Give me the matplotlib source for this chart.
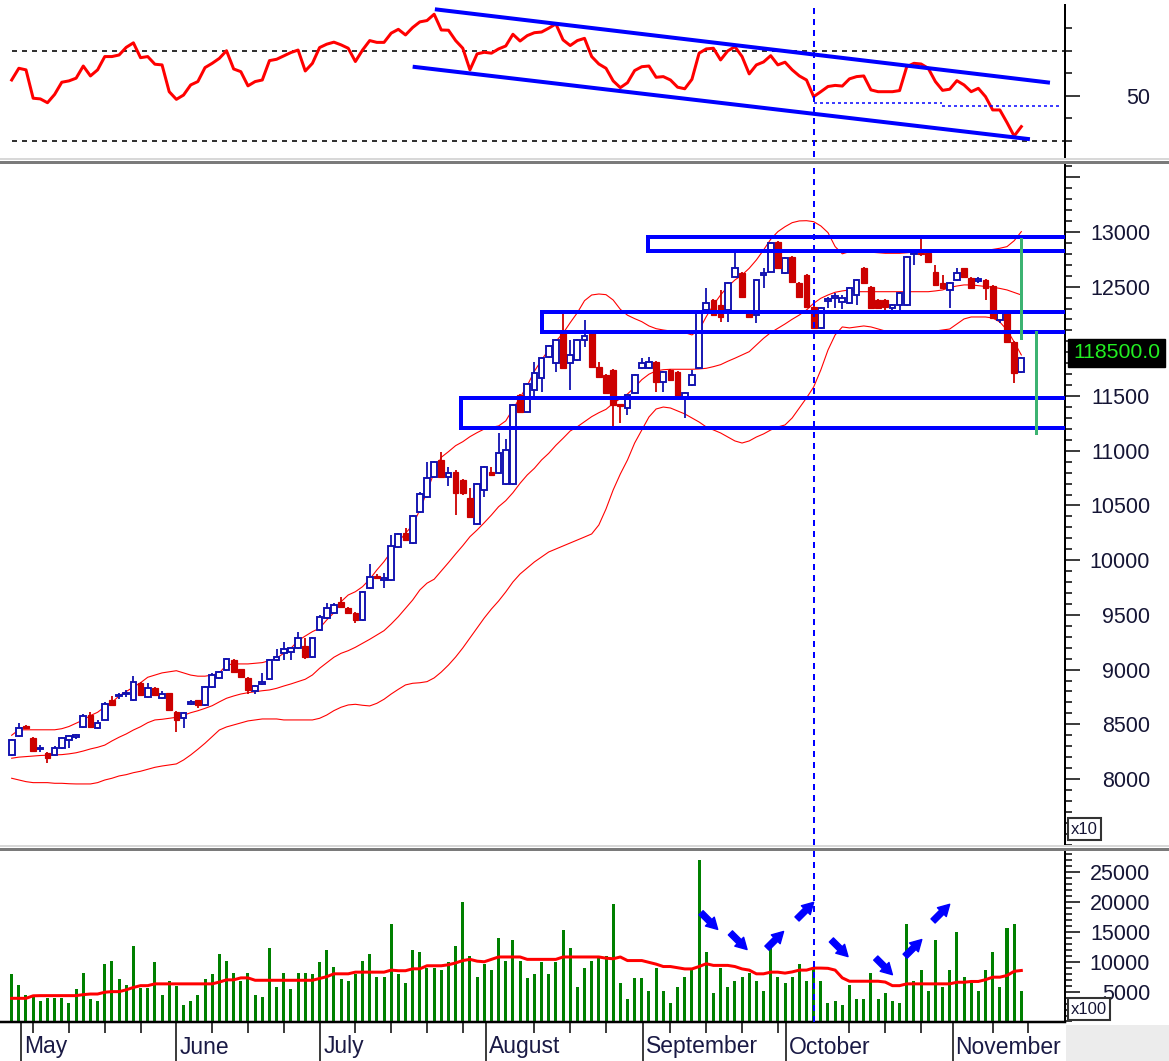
import numpy as np
import matplotlib
matplotlib.use("Agg")
import matplotlib.pyplot as plt
from matplotlib.lines import Line2D
from matplotlib.patches import Rectangle
from matplotlib.ticker import MultipleLocator, FixedLocator

plt.rcParams['font.family'] = ['Liberation Sans', 'DejaVu Sans']

# ---- price bars (x10) ----
opens = [8220, 8394, 8480, 8372, 8270, 8235, 8220, 8281, 8360, 8385, 8473, 8585, 8464, 8540, 8722, 8755, 8775, 8722, 8875, 8753,
         8829, 8745, 8784, 8616, 8555, 8690, 8720, 8677, 8841, 8923, 8997, 9088, 9003, 8923, 8807, 8870, 8912, 9088, 9149, 9165,
         9195, 9216, 9119, 9362, 9469, 9515, 9621, 9560, 9515, 9457, 9743, 9856, 9820, 9820, 10124, 10246, 10160, 10444, 10580, 10763,
         10916, 10758, 10809, 10733, 10566, 10331, 10642, 10809, 10800, 10697, 10697, 11510, 11358, 11556, 11663, 11860, 11800, 12074, 11800, 11830,
         12013, 12074, 11769, 11693, 11739, 11425, 11389, 11526, 11754, 11754, 11815, 11632, 11739, 11723, 11495, 11602, 11754, 12287, 12378, 12333,
         12287, 12591, 12623, 12257, 12241, 12610, 12637, 12911, 12623, 12774, 12531, 12607, 12317, 12120, 12370, 12400, 12360, 12348, 12424, 12668,
         12500, 12378, 12378, 12303, 12333, 12333, 12795, 12810, 12805, 12637, 12531, 12470, 12561, 12668, 12577, 12555, 12561, 12506, 12196, 12257,
         11997, 11720]
highs = [8370, 8512, 8490, 8380, 8310, 8250, 8300, 8380, 8400, 8412, 8590, 8616, 8540, 8700, 8760, 8790, 8810, 8942, 8890, 8875,
         8840, 8800, 8790, 8625, 8615, 8722, 8725, 8850, 8966, 8990, 9110, 9095, 9010, 8930, 8860, 8970, 9095, 9190, 9256, 9210,
         9347, 9287, 9295, 9495, 9606, 9610, 9667, 9575, 9530, 9720, 9966, 9870, 9880, 10231, 10250, 10292, 10410, 10626, 10900, 10910,
         10992, 10855, 10820, 10740, 10657, 10705, 10865, 10855, 11160, 11105, 11430, 11520, 11620, 11815, 11860, 11970, 12025, 12257, 12013, 12020,
         12196, 12080, 11815, 11700, 11745, 11430, 11520, 11700, 11846, 11855, 11820, 11730, 11745, 11730, 11535, 11739, 12265, 12485, 12385, 12470,
         12540, 12805, 12630, 12265, 12570, 12668, 12905, 12920, 12770, 12780, 12540, 12615, 12325, 12310, 12410, 12440, 12420, 12495, 12570, 12683,
         12510, 12385, 12385, 12340, 12450, 12780, 12815, 12945, 12815, 12700, 12607, 12540, 12668, 12675, 12585, 12590, 12570, 12515, 12265, 12265,
         12005, 11860]
lows = [8210, 8380, 8460, 8250, 8250, 8145, 8215, 8275, 8285, 8365, 8465, 8475, 8460, 8535, 8665, 8730, 8750, 8710, 8760, 8745,
        8765, 8735, 8625, 8433, 8465, 8677, 8646, 8670, 8835, 8915, 8990, 8975, 8925, 8777, 8780, 8860, 8905, 9080, 9088, 9088,
        9190, 9095, 9110, 9355, 9460, 9505, 9570, 9515, 9424, 9440, 9735, 9830, 9743, 9810, 10115, 10180, 10150, 10430, 10570, 10755,
        10755, 10678, 10413, 10600, 10390, 10320, 10580, 10770, 10790, 10690, 10690, 11350, 11350, 11489, 11540, 11850, 11723, 11745, 11556, 11820,
        11952, 11760, 11670, 11520, 11220, 11250, 11327, 11515, 11745, 11745, 11540, 11540, 11640, 11490, 11300, 11595, 11745, 12280, 12235, 12180,
        12180, 12585, 12400, 12220, 12166, 12485, 12630, 12660, 12615, 12540, 12400, 12310, 12110, 12110, 12303, 12303, 12300, 12340, 12333, 12525,
        12295, 12295, 12257, 12272, 12257, 12325, 12700, 12780, 12720, 12510, 12480, 12303, 12555, 12585, 12480, 12531, 12378, 12200, 12166, 11990,
        11623, 11715]
closes = [8357, 8470, 8470, 8256, 8285, 8195, 8281, 8372, 8394, 8395, 8576, 8480, 8515, 8686, 8680, 8770, 8790, 8890, 8768, 8829,
          8770, 8780, 8631, 8540, 8607, 8700, 8680, 8844, 8950, 8978, 9097, 8981, 8930, 8814, 8853, 8880, 9088, 9113, 9186, 9195,
          9287, 9113, 9287, 9484, 9560, 9591, 9575, 9520, 9454, 9713, 9850, 9835, 9840, 10130, 10240, 10185, 10404, 10605, 10752, 10900,
          10763, 10800, 10612, 10612, 10398, 10697, 10855, 10780, 10977, 11007, 11419, 11358, 11608, 11714, 11846, 11958, 12013, 11754, 11876, 12013,
          12050, 11769, 11677, 11526, 11419, 11410, 11510, 11693, 11800, 11815, 11632, 11723, 11647, 11495, 11526, 11693, 12257, 12354, 12241, 12226,
          12531, 12668, 12409, 12226, 12561, 12620, 12897, 12668, 12760, 12546, 12409, 12317, 12120, 12303, 12380, 12410, 12400, 12485, 12561, 12531,
          12303, 12303, 12317, 12333, 12440, 12770, 12805, 12795, 12729, 12516, 12485, 12531, 12623, 12591, 12485, 12565, 12485, 12211, 12257, 11997,
          11709, 11850]

# Bollinger bands
bb_upper = [8400, 8450, 8450, 8450, 8450, 8450, 8450, 8460, 8480, 8510, 8540, 8580, 8610, 8660, 8700, 8760, 8800, 8840, 8880, 8930,
            8950, 8970, 8980, 8990, 8970, 8950, 8940, 8940, 8950, 8970, 9042, 9052, 9052, 9052, 9058, 9064, 9082, 9104, 9149, 9195,
            9265, 9307, 9347, 9378, 9454, 9520, 9621, 9682, 9712, 9758, 9826, 9911, 9987, 10078, 10169, 10246, 10322, 10459, 10626, 10804,
            10941, 10992, 11047, 11083, 11129, 11166, 11199, 11215, 11227, 11273, 11382, 11486, 11595, 11727, 11830, 11924, 12001, 12074, 12171, 12262,
            12372, 12424, 12433, 12427, 12378, 12293, 12239, 12208, 12180, 12141, 12116, 12104, 12095, 12089, 12080, 12059, 12104, 12226, 12333, 12424,
            12500, 12561, 12607, 12668, 12744, 12835, 12933, 13003, 13048, 13085, 13101, 13103, 13094, 13055, 12994, 12866, 12800, 12820, 12820, 12820,
            12815, 12810, 12805, 12805, 12805, 12810, 12815, 12820, 12820, 12820, 12820, 12820, 12820, 12820, 12820, 12825, 12830, 12840, 12851, 12866,
            12920, 13003]
bb_mid = [8190, 8200, 8205, 8210, 8215, 8218, 8220, 8223, 8230, 8240, 8256, 8275, 8290, 8310, 8348, 8382, 8412, 8448, 8478, 8515,
          8540, 8546, 8555, 8564, 8583, 8606, 8624, 8646, 8670, 8705, 8738, 8759, 8777, 8789, 8798, 8807, 8814, 8829, 8850, 8869,
          8890, 8912, 8951, 9012, 9063, 9113, 9149, 9173, 9204, 9241, 9277, 9317, 9356, 9417, 9484, 9560, 9636, 9728, 9790, 9826,
          9902, 9978, 10057, 10133, 10215, 10276, 10343, 10413, 10489, 10544, 10617, 10703, 10779, 10840, 10916, 10977, 11050, 11114, 11181, 11220,
          11266, 11312, 11348, 11379, 11434, 11476, 11519, 11580, 11650, 11700, 11730, 11741, 11745, 11745, 11745, 11745, 11748, 11754, 11769, 11787,
          11818, 11846, 11876, 11906, 11967, 12028, 12080, 12120, 12159, 12202, 12241, 12287, 12348, 12394, 12424, 12449, 12461, 12470, 12454, 12454,
          12454, 12454, 12454, 12454, 12454, 12454, 12454, 12454, 12454, 12461, 12470, 12493, 12506, 12516, 12516, 12509, 12502, 12495, 12484, 12470,
          12447, 12424]
bb_lower = [8007, 7991, 7976, 7967, 7967, 7967, 7961, 7961, 7957, 7955, 7955, 7955, 7967, 7991, 8007, 8028, 8040, 8058, 8071, 8089,
            8107, 8119, 8128, 8138, 8174, 8220, 8272, 8327, 8387, 8448, 8476, 8494, 8512, 8531, 8540, 8549, 8549, 8549, 8540, 8540,
            8540, 8540, 8540, 8555, 8585, 8625, 8656, 8677, 8683, 8674, 8668, 8692, 8729, 8777, 8820, 8860, 8875, 8880, 8890, 8924,
            8978, 9042, 9115, 9198, 9289, 9381, 9472, 9554, 9627, 9710, 9801, 9874, 9929, 9984, 10029, 10075, 10103, 10130, 10157, 10185,
            10212, 10240, 10322, 10468, 10642, 10788, 10916, 11071, 11190, 11309, 11382, 11400, 11391, 11364, 11337, 11300, 11263, 11218, 11190, 11163,
            11126, 11090, 11071, 11090, 11126, 11154, 11190, 11218, 11236, 11300, 11391, 11483, 11583, 11739, 11921, 12059, 12132, 12123, 12132, 12141,
            12132, 12113, 12095, 12086, 12077, 12077, 12077, 12077, 12086, 12095, 12104, 12113, 12159, 12205, 12223, 12223, 12223, 12214, 12177, 12104,
            11995, 11876]

# ---- volume (x100) and its moving average ----
volume = [7870, 6180, 4500, 4500, 3480, 3880, 3880, 3880, 3150, 5450, 8200, 3770, 3480, 9550, 10200, 7140, 6180, 12600, 5620, 5620,
          9900, 4500, 6860, 6000, 2800, 3480, 4500, 7140, 7870, 11240, 10200, 8200, 6860, 8200, 4500, 4160, 12250, 5850, 8200, 5500,
          8200, 8200, 7870, 9900, 11900, 9200, 7140, 6860, 7870, 10200, 11240, 7530, 7530, 16300, 7870, 6520, 11900, 11580, 8880, 8880,
          8540, 9900, 12600, 20000, 10900, 7530, 9550, 8540, 13940, 10200, 13600, 10200, 7200, 7870, 9900, 7870, 9900, 15290, 12250, 5850,
          8880, 10200, 10900, 10900, 19670, 6520, 3820, 7200, 7200, 5170, 8880, 5170, 3150, 5850, 7530, 8880, 27090, 11580, 4830, 8880,
          5850, 6860, 7530, 8200, 6860, 5170, 12600, 7530, 6520, 7530, 9550, 6860, 9200, 6860, 3150, 3480, 2800, 6180, 3820, 3820,
          8200, 3820, 4830, 3480, 3150, 16300, 6860, 8540, 5170, 13600, 5850, 8540, 14950, 7530, 6520, 5170, 8540, 11580, 5850, 15620,
          16300, 5170]
vol_ma = [3880, 3880, 3880, 4300, 4330, 4330, 4330, 4330, 4330, 4330, 4500, 4600, 4600, 4900, 5000, 5000, 5300, 5700, 6000, 6000,
          6300, 6300, 6300, 6300, 6300, 6300, 6300, 6300, 6300, 6600, 6970, 6970, 7300, 7300, 6900, 6900, 6900, 6900, 6900, 6900,
          6900, 6900, 6900, 7200, 7500, 7980, 7980, 7980, 8260, 8260, 8260, 8260, 8260, 8600, 8500, 8500, 8820, 8820, 9330, 9330,
          9330, 9500, 9800, 10200, 10400, 10100, 10000, 10400, 10800, 10800, 10800, 10800, 10400, 10400, 10400, 10400, 10400, 10800, 10800, 10800,
          10800, 10800, 10800, 10600, 10500, 10800, 10200, 10200, 10200, 9900, 9600, 9200, 9200, 9000, 8800, 8800, 9200, 9670, 9390, 9390,
          9390, 9200, 8800, 8600, 7980, 7980, 8260, 8260, 8100, 8300, 8600, 8600, 8940, 8940, 8900, 8600, 7300, 6740, 6740, 6740,
          6740, 6740, 6600, 6000, 6000, 6300, 6300, 6300, 6300, 6300, 6300, 6300, 6570, 6570, 6700, 6700, 7000, 7420, 7420, 7700,
          8400, 8540]

# ---- RSI ----
rsi = [57.1, 62.3, 61.6, 49.0, 48.7, 47.0, 50.7, 56.1, 56.7, 57.9, 63.3, 58.9, 61.6, 67.5, 67.5, 68.2, 71.6, 73.6, 67.0, 67.5,
       64.1, 63.8, 51.9, 48.5, 50.4, 54.9, 56.4, 62.6, 64.5, 66.7, 70.1, 62.0, 60.8, 54.5, 56.4, 57.1, 65.7, 66.3, 67.8, 69.3,
       70.4, 61.1, 64.5, 71.5, 73.0, 73.9, 72.7, 71.2, 65.3, 70.4, 74.6, 73.8, 73.8, 77.9, 79.6, 77.1, 80.4, 82.9, 83.5, 86.3,
       79.3, 79.2, 74.6, 71.2, 61.6, 68.7, 69.4, 69.0, 70.9, 72.2, 77.4, 74.4, 76.8, 78.1, 78.4, 80.1, 82.0, 74.9, 72.4, 74.6,
       75.6, 67.5, 64.2, 62.3, 56.7, 53.7, 55.9, 61.3, 63.0, 63.3, 58.3, 58.6, 57.1, 53.9, 53.2, 57.4, 69.0, 70.9, 71.2, 66.0,
       70.0, 71.9, 67.5, 59.8, 63.8, 65.1, 67.9, 63.8, 65.0, 61.6, 58.9, 57.1, 49.7, 51.9, 54.2, 54.7, 54.4, 57.6, 58.6, 58.9,
       52.7, 51.9, 51.9, 51.9, 52.4, 63.0, 64.5, 64.2, 62.3, 56.4, 52.5, 53.0, 56.8, 54.9, 51.9, 53.4, 49.7, 43.8, 43.8, 38.2,
       32.2, 36.4]

# drawn annotations (bar index / value)
rsi_channel = [((59.1, 88.5), (145.0, 55.9)), ((56.0, 63.0), (142.2, 30.8))]
rsi_level = [((112.1, 46.8), (129.9, 46.8)), ((129.9, 45.6), (146.4, 45.6))]
zones = [(88.9, 12957, 12826), (74.0, 12272, 12089), (62.8, 11480, 11206)]
green_marks = [(140.9, 12933, 12028), (143.1, 12089, 11166)]
arrows_dn = [(98.6, 15410), (102.7, 12040), (116.8, 10860), (123.0, 7830)]
arrows_up = [(107.8, 15070), (112.0, 19950), (127.1, 13720), (131.0, 19620)]
oct_line = 112.1
month_pos = [1.3, 23.0, 43.1, 66.3, 88.2, 108.1, 131.4]
month_names = ['May', 'June', 'July', 'August', 'September', 'October', 'November']
week_pos = [3, 8, 13, 18, 28, 33, 38, 48, 53, 58, 63, 73, 78, 83, 92, 97, 102, 107, 117, 122, 127, 137, 142]
last_price = '118500.0'

W, H = 1169, 1061
fig = plt.figure(figsize=(W / 100, H / 100), dpi=100)


def box(x0, y0, x1, y1):
    return [x0 / W, 1 - y1 / H, (x1 - x0) / W, (y1 - y0) / H]


ax_rsi = fig.add_axes(box(0, 5, 1065, 157))
ax_px = fig.add_axes(box(0, 165, 1065, 845))
ax_vol = fig.add_axes(box(0, 850, 1065, 1022))

BLUE = '#1010b0'
RED = '#cc0000'
LBL = '#151535'
PT = 0.72  # points per pixel

for ax in (ax_rsi, ax_px, ax_vol):
    ax.set_xlim(-1.63, 147.1)
    for s in ('top', 'left', 'bottom'):
        ax.spines[s].set_visible(False)
    ax.spines['right'].set_linewidth(2 * PT)
    ax.yaxis.tick_right()
    ax.tick_params(axis='y', which='major', direction='out', length=15 * PT, width=1.5 * PT,
                   pad=(1150 - 1080) * PT, labelsize=15.5, labelcolor=LBL)
    ax.tick_params(axis='y', which='minor', direction='out', length=7 * PT, width=1.5 * PT)
    ax.axvline(oct_line, color='#0000ff', lw=2 * PT, ls=(0, (3, 2.5)), zorder=6)

x = np.arange(len(closes))
o, h, l, c = map(np.array, (opens, highs, lows, closes))

# ---- RSI panel ----
ax_rsi.set_ylim(22.9, 90.4)
ax_rsi.set_xticks([])
ax_rsi.yaxis.set_major_locator(FixedLocator([50]))
ax_rsi.yaxis.set_minor_locator(FixedLocator([30, 40, 60, 70, 80]))
ax_rsi.set_yticklabels(['50'], ha='right')
for lv in (70, 30):
    ax_rsi.plot([0, 147.1], [lv, lv], color='#333333', lw=2 * PT, ls=(0, (2.5, 2.5)), zorder=1)
ax_rsi.plot(x, rsi, color='#ff0000', lw=3 * PT, zorder=4)
for (p0, p1) in rsi_channel:
    ax_rsi.plot([p0[0], p1[0]], [p0[1], p1[1]], color='#0000ff', lw=4 * PT, zorder=5,
                solid_capstyle='butt')
for (p0, p1) in rsi_level:
    ax_rsi.plot([p0[0], p1[0]], [p0[1], p1[1]], color='#0000ff', lw=1.5 * PT, ls=(0, (2, 2)), zorder=5)

# ---- price panel ----
ax_px.set_ylim(7397, 13612)
ax_px.set_xticks([])
ax_px.yaxis.set_major_locator(MultipleLocator(500))
ax_px.yaxis.set_minor_locator(MultipleLocator(100))
# 12000 sits under the last-price box in the original, so it is left unlabelled
ax_px.yaxis.set_major_formatter(plt.FuncFormatter(
    lambda v, _: '%d' % v if 8000 <= v <= 13000 and v != 12000 else ''))
for lab in ax_px.get_yticklabels():
    lab.set_horizontalalignment('right')

for band in (bb_upper, bb_mid, bb_lower):
    ax_px.plot(x, band, color='#ff0000', lw=1.1 * PT, zorder=2)

up = c >= o
ax_px.vlines(x, l, h, colors=np.where(up, BLUE, RED), lw=1.8 * PT, zorder=3)
lo_b = np.minimum(o, c)
hi_b = np.maximum(o, c)
hgt = np.maximum(hi_b - lo_b, 14)
ax_px.bar(x[up], hgt[up], bottom=lo_b[up], width=0.8, facecolor='white', edgecolor=BLUE,
          linewidth=1.9 * PT, zorder=4)
ax_px.bar(x[~up], hgt[~up], bottom=lo_b[~up], width=0.8, facecolor=RED, edgecolor=RED,
          linewidth=1.2 * PT, zorder=4)

for (xl, top, bot) in zones:
    ax_px.plot([147.1, xl, xl, 147.1], [top, top, bot, bot], color='#0000ff', lw=4 * PT,
               zorder=5, solid_joinstyle='miter')
for (xg, y0, y1) in green_marks:
    ax_px.plot([xg, xg], [y0, y1], color='#3cb371', lw=3 * PT, zorder=6)

# ---- volume panel ----
ax_vol.set_ylim(-84, 28705)
ax_vol.spines['bottom'].set_visible(True)
ax_vol.spines['bottom'].set_linewidth(2.5 * PT)
ax_vol.yaxis.set_major_locator(FixedLocator([5000, 10000, 15000, 20000, 25000]))
ax_vol.yaxis.set_minor_locator(MultipleLocator(1000))
ax_vol.set_yticklabels(['5000', '10000', '15000', '20000', '25000'], ha='right')
ax_vol.bar(x, volume, width=0.42, color='#008000', zorder=2)
ax_vol.plot(x, vol_ma, color='#ff0000', lw=3 * PT, zorder=3)

ax_vol.xaxis.set_major_locator(FixedLocator(month_pos))
ax_vol.xaxis.set_minor_locator(FixedLocator(week_pos))
ax_vol.tick_params(axis='x', which='major', direction='out', length=40 * PT, width=1.5 * PT,
                   labelbottom=False)
ax_vol.tick_params(axis='x', which='minor', direction='out', length=11 * PT, width=1.5 * PT)
for pos, name in zip(month_pos, month_names):
    ax_vol.annotate(name, xy=(pos, 0), xycoords=('data', 'axes fraction'),
                    xytext=(3 * PT, -25 * PT), textcoords='offset points',
                    ha='left', va='center', fontsize=16.5, color='#1a1a45')

astyle = dict(arrowstyle='simple,head_width=0.9,head_length=0.8,tail_width=0.42',
              color='#0000ff', shrinkA=0, shrinkB=0)
for (ax_i, vv) in arrows_dn:
    ax_vol.annotate('', xy=(ax_i, vv), xytext=(-12, 12), textcoords='offset points',
                    arrowprops=astyle, zorder=7)
for (ax_i, vv) in arrows_up:
    ax_vol.annotate('', xy=(ax_i, vv), xytext=(-12, -12), textcoords='offset points',
                    arrowprops=astyle, zorder=7)

# ---- separators and labels ----
for yy in (161, 848):
    fig.add_artist(Line2D([0, 1], [1 - (yy - 2) / H] * 2, color='#d8d8d8', lw=2 * PT))
    fig.add_artist(Line2D([0, 1], [1 - (yy + 1) / H] * 2, color='#7a7a7a', lw=3 * PT))
fig.add_artist(Rectangle((1066 / W, 0), (W - 1066) / W, 36 / H, transform=fig.transFigure,
                         facecolor='#ececec', edgecolor='none'))

fig.text(1073 / W, 1 - 353 / H, last_price, color='#22ee22', fontsize=15.3, va='center', ha='left',
         bbox=dict(facecolor='black', edgecolor='black', boxstyle='square,pad=0.22'), zorder=10)
fig.text(1071 / W, 1 - 829 / H, 'x10', color=LBL, fontsize=12, va='center', ha='left',
         bbox=dict(facecolor='white', edgecolor='#333333', boxstyle='square,pad=0.2', lw=1.5), zorder=10)
fig.text(1071 / W, 1 - 1009 / H, 'x100', color=LBL, fontsize=12, va='center', ha='left',
         bbox=dict(facecolor='white', edgecolor='#333333', boxstyle='square,pad=0.2', lw=1.5), zorder=10)

fig.savefig('out.png', dpi=100)
